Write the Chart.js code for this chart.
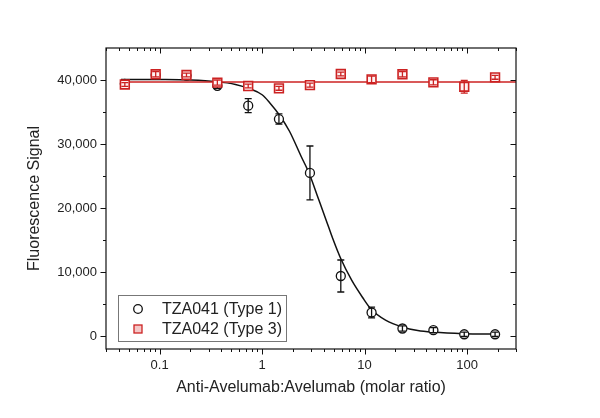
<!DOCTYPE html>
<html>
<head>
<meta charset="utf-8">
<script src="https://cdn.jsdelivr.net/npm/chart.js@4.4.1/dist/chart.umd.min.js"></script>
<style>
  html, body { margin: 0; padding: 0; background: #ffffff; }
  canvas { display: block; }
</style>
</head>
<body>
<canvas id="c" width="600" height="418"></canvas>
<script>
// ---------- data ----------
const ratios = [0.0458, 0.0916, 0.183, 0.366, 0.732, 1.46, 2.93, 5.86, 11.7, 23.4, 46.9, 93.8, 187.5];
const tza041 = [39400, 40800, 40700, 39100, 36000, 33900, 25500, 9400, 3700, 1200, 940, 300, 300];
const tza041Err = [300, 300, 300, 400, 1100, 800, 4200, 2500, 850, 400, 400, 350, 350];
const tza042 = [39300, 40900, 40780, 39600, 39060, 38700, 39200, 40940, 40100, 40900, 39640, 38950, 40420];
const tza042Err = [300, 400, 300, 400, 300, 300, 300, 300, 500, 400, 400, 1000, 300];

const fit041X = [0.042, 0.1, 0.2, 0.355, 0.55, 0.75, 1.0, 1.18, 1.48, 1.85, 2.4, 2.9, 3.5, 4.2, 4.9, 5.82, 7.5, 9.6, 11.6, 16, 23.7, 33, 46.5, 91.4, 200];
const fit041Y = [40100, 40080, 40000, 39750, 39300, 38650, 37700, 36500, 34500, 32000, 28100, 25300, 21700, 18200, 15200, 12200, 8700, 6000, 4200, 2500, 1400, 900, 650, 400, 330];
const fit042X = [0.042, 300];
const fit042Y = [39700, 39700];

const seriesLabels = ['TZA041 (Type 1)', 'TZA042 (Type 3)'];
const xTickValues = [0.1, 1, 10, 100];
const xTickLabels = ['0.1', '1', '10', '100'];
const yTickValues = [0, 10000, 20000, 30000, 40000];
const yTickLabels = ['0', '10,000', '20,000', '30,000', '40,000'];
const yMinorValues = [5000, 15000, 25000, 35000];
const xTitle = 'Anti-Avelumab:Avelumab (molar ratio)';
const yTitle = 'Fluorescence Signal';

// ---------- styling ----------
const RED = '#cc2222';
const BLACK = '#111111';
const FONT = '"Liberation Sans", Arial, sans-serif';
Chart.defaults.font.family = FONT;
Chart.defaults.color = '#222222';

const pts = (xs, ys) => xs.map((x, i) => ({ x: x, y: ys[i] }));

const whiteBg = {
  id: 'whiteBg',
  beforeDraw(chart) {
    const ctx = chart.ctx;
    ctx.save();
    ctx.fillStyle = '#ffffff';
    ctx.fillRect(0, 0, chart.width, chart.height);
    ctx.restore();
  }
};

// error bars drawn right after their own dataset, so later datasets cover them
const errorBars = {
  id: 'errorBars',
  afterDatasetDraw(chart, args) {
    const ds = chart.data.datasets[args.index];
    if (!ds.errors) return;
    const ctx = chart.ctx;
    const xs = chart.scales.x, ys = chart.scales.y;
    ctx.save();
    ctx.strokeStyle = ds.errColor;
    ctx.lineWidth = 1.3;
    ds.data.forEach((p, i) => {
      const e = ds.errors[i];
      const px = xs.getPixelForValue(p.x);
      const y1 = ys.getPixelForValue(p.y + e);
      const y2 = ys.getPixelForValue(p.y - e);
      ctx.beginPath();
      ctx.moveTo(px, y1); ctx.lineTo(px, y2);
      ctx.moveTo(px - 3.5, y1); ctx.lineTo(px + 3.5, y1);
      ctx.moveTo(px - 3.5, y2); ctx.lineTo(px + 3.5, y2);
      ctx.stroke();
    });
    ctx.restore();
  }
};

const frameTicks = {
  id: 'frameTicks',
  afterDraw(chart) {
    const ctx = chart.ctx;
    const a = chart.chartArea;
    const xs = chart.scales.x, ys = chart.scales.y;
    ctx.save();
    ctx.strokeStyle = '#111';
    ctx.lineWidth = 1.2;
    ctx.strokeRect(a.left, a.top, a.right - a.left, a.bottom - a.top);
    ctx.lineWidth = 1;
    const MAJ = 5.5, MIN = 3;
    ctx.beginPath();
    xTickValues.forEach(v => {
      const px = Math.round(xs.getPixelForValue(v)) + 0.5;
      ctx.moveTo(px, a.bottom); ctx.lineTo(px, a.bottom + MAJ);
      ctx.moveTo(px, a.top); ctx.lineTo(px, a.top + MAJ);
    });
    for (let d = -2; d <= 2; d++) {
      for (let m = 2; m <= 9; m++) {
        const v = m * Math.pow(10, d);
        if (v < xs.min || v > xs.max) continue;
        const px = Math.round(xs.getPixelForValue(v)) + 0.5;
        ctx.moveTo(px, a.bottom); ctx.lineTo(px, a.bottom + MIN);
        ctx.moveTo(px, a.top); ctx.lineTo(px, a.top + MIN);
      }
    }
    yTickValues.forEach(v => {
      const py = Math.round(ys.getPixelForValue(v)) + 0.5;
      ctx.moveTo(a.left, py); ctx.lineTo(a.left - MAJ, py);
      ctx.moveTo(a.right, py); ctx.lineTo(a.right - MAJ, py);
    });
    yMinorValues.forEach(v => {
      const py = Math.round(ys.getPixelForValue(v)) + 0.5;
      ctx.moveTo(a.left, py); ctx.lineTo(a.left - MIN, py);
      ctx.moveTo(a.right, py); ctx.lineTo(a.right - MIN, py);
    });
    ctx.stroke();
    ctx.restore();
  }
};

const insideLegend = {
  id: 'insideLegend',
  afterDraw(chart) {
    const ctx = chart.ctx;
    const a = chart.chartArea;
    const bx = a.left + 12, by = a.bottom - 54, bw = 168, bh = 46;
    ctx.save();
    ctx.fillStyle = '#ffffff';
    ctx.fillRect(bx, by, bw, bh);
    ctx.strokeStyle = '#777777';
    ctx.lineWidth = 1;
    ctx.strokeRect(bx + 0.5, by + 0.5, bw, bh);
    const items = chart.data.datasets.filter(d => d.inLegend)
      .sort((p, q) => p.legendIndex - q.legendIndex);
    items.forEach((ds, i) => {
      const cy = by + 14 + i * 20;
      const mx = bx + 20;
      ctx.lineWidth = 1.3;
      ctx.strokeStyle = ds.borderColor;
      ctx.fillStyle = ds.backgroundColor;
      if (ds.pointStyle === 'circle') {
        ctx.beginPath();
        ctx.arc(mx, cy, 4.3, 0, Math.PI * 2);
        ctx.fill(); ctx.stroke();
      } else {
        ctx.fillStyle = '#f4c8c8';
        ctx.fillRect(mx - 4, cy - 4, 8, 8);
        ctx.strokeRect(mx - 4, cy - 4, 8, 8);
      }
      ctx.fillStyle = '#222';
      ctx.font = '16px ' + FONT;
      ctx.textBaseline = 'middle';
      ctx.textAlign = 'left';
      ctx.fillText(ds.label, bx + 44, cy + 1);
    });
    ctx.restore();
  }
};

new Chart(document.getElementById('c'), {
  type: 'scatter',
  data: {
    datasets: [
      {
        label: seriesLabels[1],
        data: pts(ratios, tza042),
        errors: tza042Err, errColor: RED,
        inLegend: true, legendIndex: 1,
        showLine: false,
        pointStyle: 'rect', pointRadius: 6.2, pointHoverRadius: 6.2,
        borderColor: RED, backgroundColor: '#fff2f2', borderWidth: 1.6,
        order: 0
      },
      {
        label: seriesLabels[0],
        data: pts(ratios, tza041),
        errors: tza041Err, errColor: BLACK,
        inLegend: true, legendIndex: 0,
        showLine: false,
        pointStyle: 'circle', pointRadius: 4.5, pointHoverRadius: 4.5,
        borderColor: BLACK, backgroundColor: '#ffffff', borderWidth: 1.3,
        order: 1
      },
      {
        label: 'fit TZA042',
        data: pts(fit042X, fit042Y),
        showLine: true, pointRadius: 0,
        borderColor: RED, borderWidth: 1.5,
        order: 2
      },
      {
        label: 'fit TZA041',
        data: pts(fit041X, fit041Y),
        showLine: true, pointRadius: 0,
        cubicInterpolationMode: 'monotone',
        borderColor: BLACK, borderWidth: 1.5,
        order: 3
      }
    ]
  },
  options: {
    responsive: false,
    animation: false,
    devicePixelRatio: 1,
    layout: { padding: { left: 0, right: 84, top: 48, bottom: 0 } },
    plugins: { legend: { display: false }, tooltip: { enabled: false } },
    scales: {
      x: {
        type: 'logarithmic',
        min: 0.03, max: 300,
        border: { display: false },
        grid: { display: false, drawTicks: false },
        afterBuildTicks: s => { s.ticks = xTickValues.map(v => ({ value: v })); },
        afterFit: s => { s.height = 69; },
        ticks: {
          autoSkip: false, maxRotation: 0, padding: 9,
          font: { size: 13 }, color: '#222',
          callback: (v) => { const i = xTickValues.indexOf(v); return i >= 0 ? xTickLabels[i] : ''; }
        },
        title: {
          display: true, text: xTitle,
          font: { size: 16 }, color: '#222',
          padding: { top: 0, bottom: 21 }
        }
      },
      y: {
        type: 'linear',
        min: -2000, max: 45000,
        border: { display: false },
        grid: { display: false, drawTicks: false },
        afterBuildTicks: s => { s.ticks = yTickValues.map(v => ({ value: v })); },
        afterFit: s => { s.width = 106; },
        ticks: {
          padding: 9,
          font: { size: 13 }, color: '#222',
          callback: (v) => { const i = yTickValues.indexOf(v); return i >= 0 ? yTickLabels[i] : ''; }
        },
        title: {
          display: true, text: yTitle,
          font: { size: 16 }, color: '#222',
          padding: { top: 25, bottom: 0 }
        }
      }
    }
  },
  plugins: [whiteBg, errorBars, frameTicks, insideLegend]
});
</script>
</body>
</html>
